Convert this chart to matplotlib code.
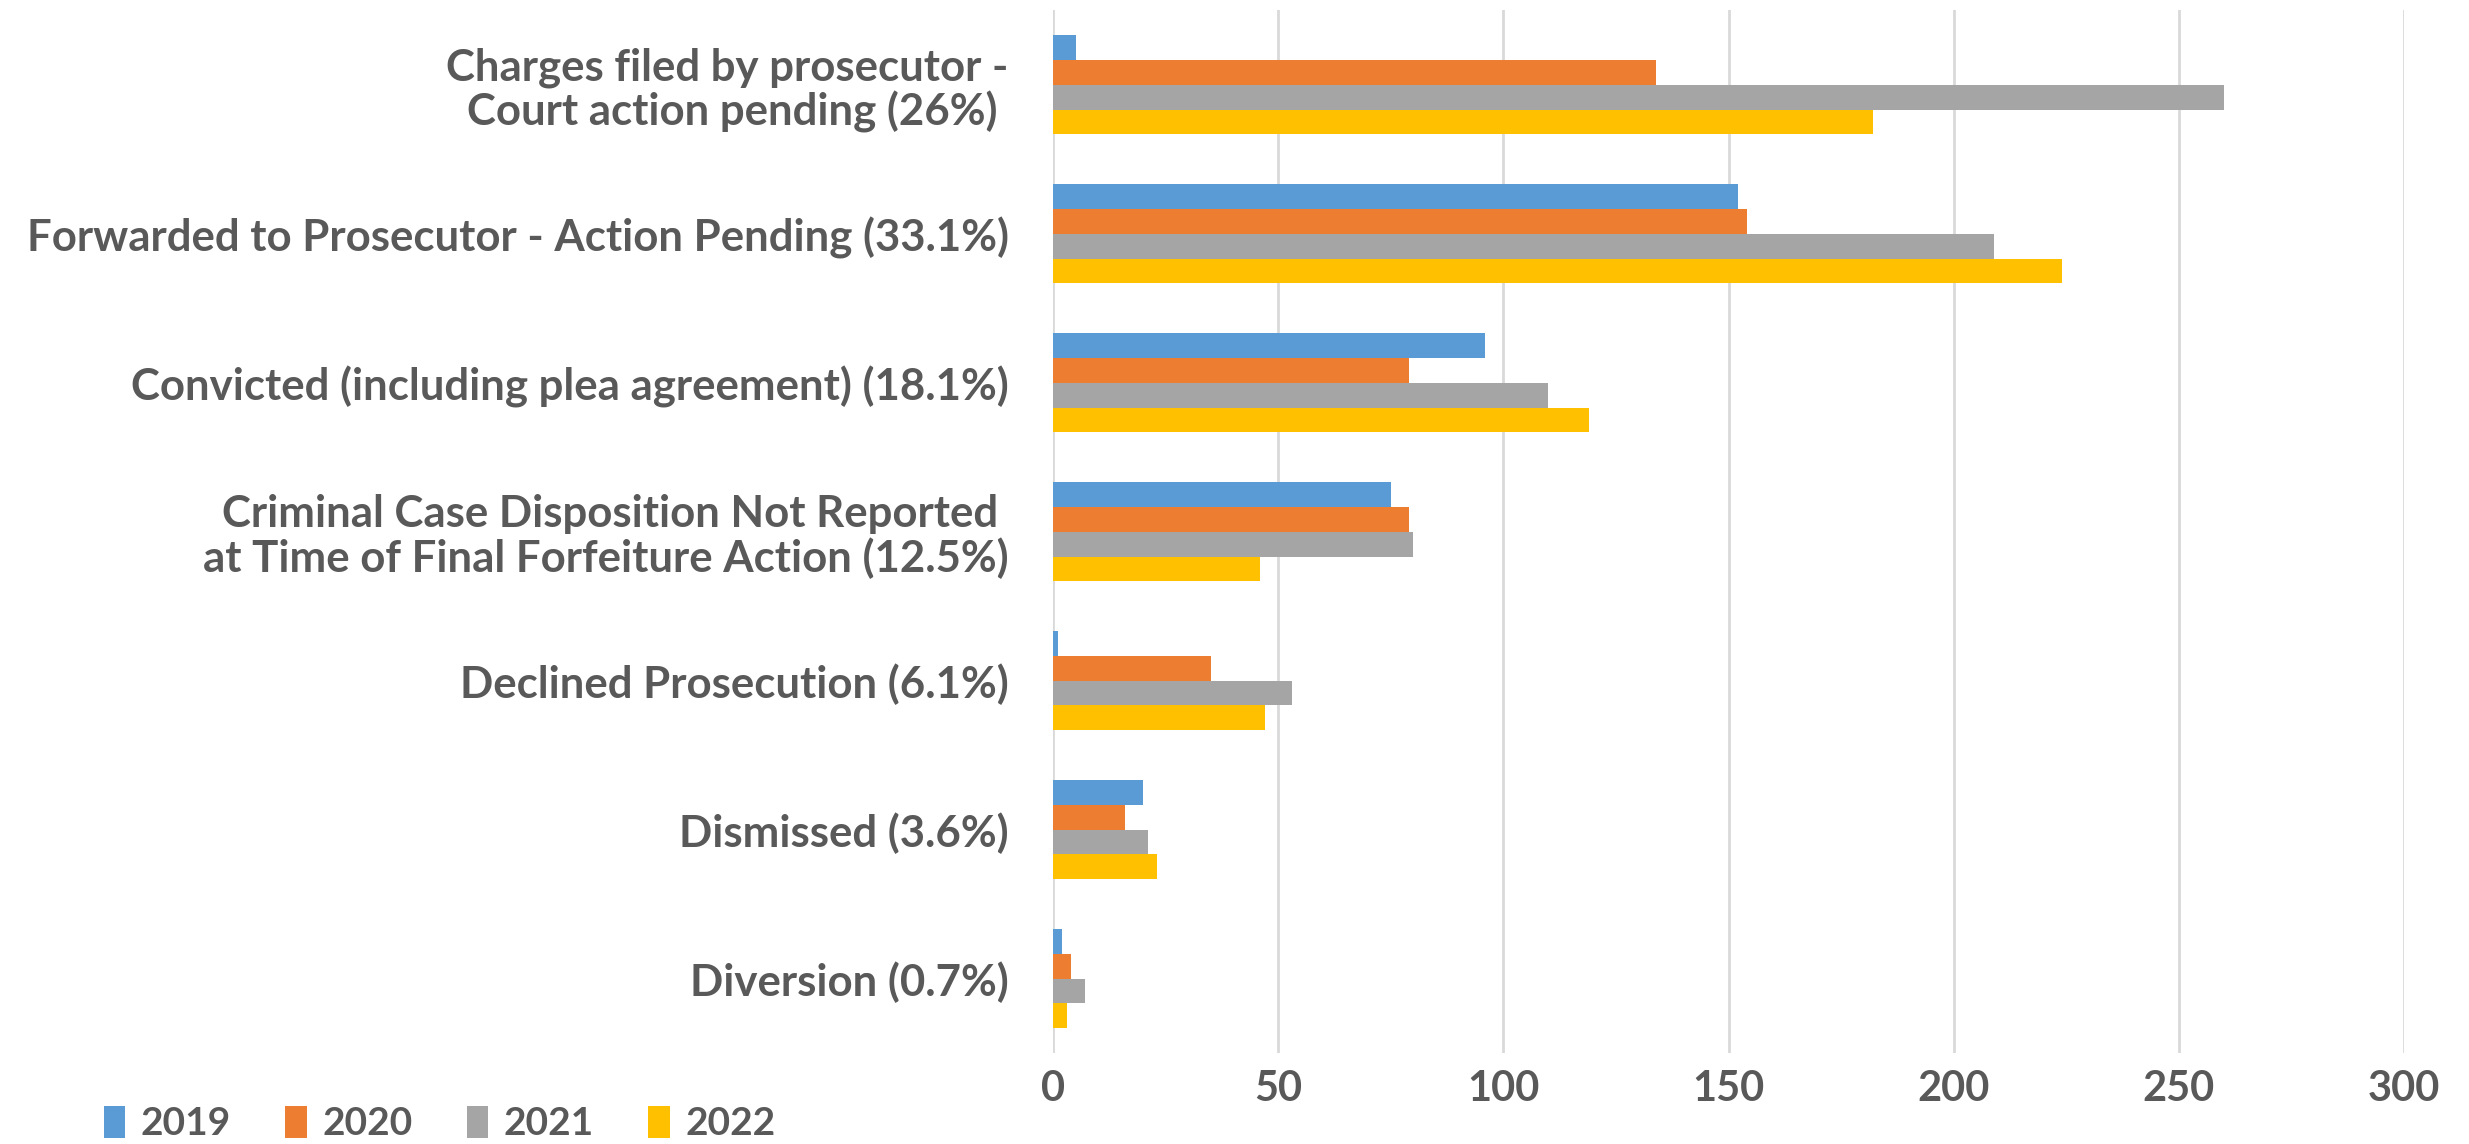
import matplotlib.pyplot as plt
import numpy as np

# categories, top to bottom
categories = [
    "Charges filed by prosecutor -\nCourt action pending (26%) ",
    "Forwarded to Prosecutor - Action Pending (33.1%)",
    "Convicted (including plea agreement) (18.1%)",
    "Criminal Case Disposition Not Reported \nat Time of Final Forfeiture Action (12.5%)",
    "Declined Prosecution (6.1%)",
    "Dismissed (3.6%)",
    "Diversion (0.7%)",
]
years = ["2019", "2020", "2021", "2022"]
v2019 = [5, 152, 96, 75, 1, 20, 2]
v2020 = [134, 154, 79, 79, 35, 16, 4]
v2021 = [260, 209, 110, 80, 53, 21, 7]
v2022 = [182, 224, 119, 46, 47, 23, 3]
series = [v2019, v2020, v2021, v2022]
colors = ["#5B9BD5", "#ED7D31", "#A5A5A5", "#FFC000"]
xticks = [0, 50, 100, 150, 200, 250, 300]

text_color = "#595959"
plt.rcParams["font.family"] = ["Lato", "DejaVu Sans"]
plt.rcParams["font.weight"] = "bold"

fig = plt.figure(figsize=(24.69, 11.44), dpi=100)
ax = fig.add_axes([0.4265, 0.0795, 0.5472, 0.9115])

y = np.arange(len(categories))
h = 0.667 / 4
for j, (vals, c, yr) in enumerate(zip(series, colors, years)):
    ax.barh(y + (j - 1.5) * h, vals, height=h, color=c, label=yr, zorder=2)

ax.set_ylim(len(categories) - 0.5, -0.5)
ax.set_xlim(0, 300)
ax.set_xticks(xticks)
ax.set_yticks(y)
ax.set_yticklabels(categories, fontsize=31.5, fontweight="bold", color=text_color,
                   multialignment="right", linespacing=1.1)
ax.tick_params(axis="x", length=0, pad=12, labelsize=30, labelcolor=text_color)
ax.tick_params(axis="y", length=0, pad=32)
for lab in ax.get_xticklabels():
    lab.set_fontweight("bold")
ax.grid(axis="x", color="#D9D9D9", linewidth=2, zorder=0)
for s in ax.spines.values():
    s.set_visible(False)

fig.legend(loc="center", bbox_to_anchor=(0.178, 0.018), ncol=4, frameon=False,
           handlelength=0.55, handleheight=0.9, handletextpad=0.4,
           columnspacing=1.4, labelcolor=text_color, prop={"weight": "bold", "size": 28})

fig.savefig("out.png", dpi=100)
